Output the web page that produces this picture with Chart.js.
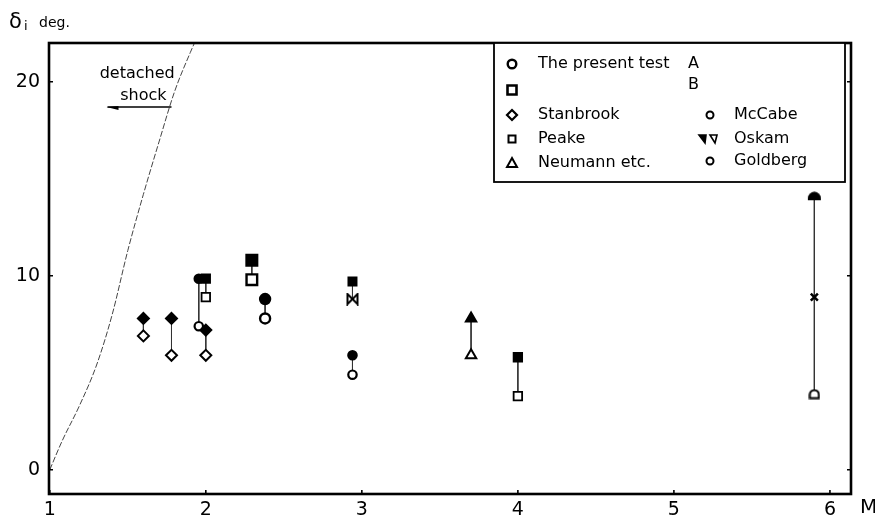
<!DOCTYPE html>
<html>
<head>
<meta charset="utf-8">
<script src="https://cdn.jsdelivr.net/npm/chart.js@4/dist/chart.umd.min.js"></script>
<style>
  html, body { margin: 0; padding: 0; background: #fff; }
  #c { display: block; }
</style>
</head>
<body>
<canvas id="c" width="875" height="525"></canvas>
<script>
// ---------------- data ----------------
const xTicks = [1, 2, 3, 4, 5, 6];
const yTicks = [0, 10, 20];

// detached-shock limit curve
const shockM     = [1.0, 1.08, 1.19, 1.30, 1.40, 1.50, 1.60, 1.70, 1.80, 1.90, 1.95];
const shockDelta = [0, 1.5, 3.3, 5.4, 8.0, 11.3, 14.2, 16.9, 19.5, 21.5, 22.4];

// The present test A (circles)
const presentAM    = [2.38];
const presentAHigh = [8.8];
const presentALow  = [7.8];
// The present test B (squares)
const presentBM    = [2.295];
const presentBHigh = [10.8];
const presentBLow  = [9.8];
// Stanbrook (diamonds)
const stanbrookM    = [1.6, 1.78, 2.0];
const stanbrookHigh = [7.8, 7.8, 7.2];
const stanbrookLow  = [6.9, 5.9, 5.9];
// Peake (small squares)
const peakeM    = [2.0, 4.0];
const peakeHigh = [9.85, 5.8];
const peakeLow  = [8.9, 3.8];
// Neumann etc. (triangles)
const neumannM    = [3.7];
const neumannHigh = [7.8];
const neumannLow  = [5.9];
// McCabe (small circles)
const mccabeM    = [1.955];
const mccabeHigh = [9.85];
const mccabeLow  = [7.4];
// Oskam
const oskamM    = [2.94];
const oskamHigh = [9.7];
const oskamLow  = [8.8];
const oskamCrossM     = [5.9];
const oskamCrossDelta = [8.9];
// Goldberg (small circles)
const goldbergM    = [2.94, 5.9];
const goldbergHigh = [5.9, 14.1];
const goldbergLow  = [4.9, 3.9];

// ---------------- custom point images ----------------
function mk(w, h, draw) {
  const c = document.createElement('canvas');
  c.width = w; c.height = h;
  const g = c.getContext('2d');
  draw(g);
  return c;
}
const bowtie = mk(13, 13, g => {
  g.strokeStyle = '#000'; g.lineWidth = 2; g.fillStyle = '#fff';
  g.beginPath();
  g.moveTo(1.5, 1.5); g.lineTo(11.5, 11.5); g.lineTo(11.5, 1.5); g.lineTo(1.5, 11.5); g.closePath();
  g.fill(); g.stroke();
});
const domeFilled = mk(15, 10, g => {
  g.fillStyle = '#000';
  g.beginPath();
  g.moveTo(1, 9); g.lineTo(1, 7); g.arc(7.5, 7, 6.5, Math.PI, 0); g.lineTo(14, 9); g.closePath();
  g.fill();
});
const domeOpen = mk(12, 11, g => {
  g.strokeStyle = '#000'; g.lineWidth = 2; g.fillStyle = '#fff';
  g.beginPath();
  g.moveTo(1.5, 9.5); g.lineTo(1.5, 6); g.arc(6, 6, 4.5, Math.PI, 0); g.lineTo(10.5, 9.5); g.closePath();
  g.fill(); g.stroke();
});

// ---------------- datasets ----------------
function markers(label, M, high, low, styleHigh, styleLow, radius, bw) {
  const data = [], bg = [], ps = [];
  M.forEach((m, i) => {
    if (high[i] != null) { data.push({x: m, y: high[i]}); bg.push('#000'); ps.push(Array.isArray(styleHigh) ? styleHigh[i] : styleHigh); }
    if (low[i] != null)  { data.push({x: m, y: low[i]});  bg.push('#fff'); ps.push(Array.isArray(styleLow) ? styleLow[i] : styleLow); }
  });
  return { label, data, showLine: false, order: 0,
    pointStyle: ps, pointRadius: radius, pointHoverRadius: radius,
    pointBorderWidth: bw, pointBackgroundColor: bg, pointBorderColor: '#000' };
}
function connectors(M, high, low) {
  return M.map((m, i) => ({
    label: 'link', data: [{x: m, y: high[i]}, {x: m, y: low[i]}],
    showLine: true, pointRadius: 0, borderColor: '#333', borderWidth: 1, order: 10
  }));
}

const datasets = [
  { label: 'detached shock', data: shockM.map((m, i) => ({x: m, y: shockDelta[i]})),
    showLine: true, pointRadius: 0, borderColor: '#444', borderWidth: 1, borderDash: [6, 2],
    tension: 0, cubicInterpolationMode: 'monotone', order: 20 },
  ...connectors(presentAM, presentAHigh, presentALow),
  ...connectors(presentBM, presentBHigh, presentBLow),
  ...connectors(stanbrookM, stanbrookHigh, stanbrookLow),
  ...connectors(peakeM, peakeHigh, peakeLow),
  ...connectors(neumannM, neumannHigh, neumannLow),
  ...connectors(mccabeM, mccabeHigh, mccabeLow),
  ...connectors(oskamM, oskamHigh, oskamLow),
  ...connectors(goldbergM, goldbergHigh, goldbergLow),
  markers('Stanbrook', stanbrookM, stanbrookHigh, stanbrookLow, 'rectRot', 'rectRot', 5.5, 2),
  markers('Peake', peakeM, peakeHigh, peakeLow, 'rect', 'rect', 6, 1.8),
  markers('Neumann etc.', neumannM, neumannHigh, neumannLow, 'triangle', 'triangle', 6, 2),
  markers('McCabe', mccabeM, mccabeHigh, mccabeLow, 'circle', 'circle', 4.2, 2.2),
  markers('Oskam', oskamM, oskamHigh, oskamLow, 'rect', bowtie, 6, 1.5),
  markers('Goldberg', goldbergM, goldbergHigh, goldbergLow, ['circle', domeFilled], ['circle', domeOpen], 4.2, 2.2),
  markers('The present test A', presentAM, presentAHigh, presentALow, 'circle', 'circle', 5, 2.4),
  markers('The present test B', presentBM, presentBHigh, presentBLow, 'rect', 'rect', 7.5, 2.4),
  { label: 'Oskam x', data: oskamCrossM.map((m, i) => ({x: m, y: oskamCrossDelta[i]})),
    showLine: false, pointStyle: 'crossRot', pointRadius: 5, pointBorderWidth: 2.5,
    pointBorderColor: '#000', order: 0 }
];

// ---------------- legend / frame / annotation plugin ----------------
const FONT = "'DejaVu Sans', sans-serif";
function sym(ctx, type, x, y) {
  ctx.save();
  ctx.strokeStyle = '#000'; ctx.fillStyle = '#fff';
  ctx.beginPath();
  if (type === 'circle') { ctx.lineWidth = 2.4; ctx.arc(x, y, 4.3, 0, Math.PI * 2); }
  else if (type === 'square') { ctx.lineWidth = 2.6; ctx.rect(x - 4.5, y - 4.5, 9, 9); }
  else if (type === 'diamond') { ctx.lineWidth = 2.2; ctx.moveTo(x, y - 5); ctx.lineTo(x + 5, y); ctx.lineTo(x, y + 5); ctx.lineTo(x - 5, y); ctx.closePath(); }
  else if (type === 'smallSquare') { ctx.lineWidth = 2; ctx.rect(x - 3.5, y - 3.5, 7, 7); }
  else if (type === 'triangle') { ctx.lineWidth = 2; ctx.moveTo(x, y - 5); ctx.lineTo(x + 5, y + 4); ctx.lineTo(x - 5, y + 4); ctx.closePath(); }
  else if (type === 'smallCircle') { ctx.lineWidth = 2; ctx.arc(x, y, 3.5, 0, Math.PI * 2); }
  ctx.fill(); ctx.stroke();
  if (type === 'oskam') {
    ctx.fillStyle = '#000'; ctx.lineWidth = 1.6;
    ctx.beginPath(); ctx.moveTo(x - 9, y - 4); ctx.lineTo(x - 2, y - 4); ctx.lineTo(x - 3, y + 4); ctx.closePath(); ctx.fill(); ctx.stroke();
    ctx.fillStyle = '#fff';
    ctx.beginPath(); ctx.moveTo(x + 2, y - 4); ctx.lineTo(x + 9, y - 4); ctx.lineTo(x + 7, y + 4); ctx.closePath(); ctx.fill(); ctx.stroke();
  }
  ctx.restore();
}

const decor = {
  id: 'decor',
  afterDraw(chart) {
    const { ctx, chartArea: a, scales: { x, y } } = chart;
    ctx.save();
    // frame
    ctx.strokeStyle = '#000'; ctx.lineWidth = 2.6;
    ctx.strokeRect(a.left, a.top, a.right - a.left, a.bottom - a.top);
    // inward ticks
    ctx.lineWidth = 1.6;
    ctx.beginPath();
    xTicks.forEach(v => { const px = x.getPixelForValue(v); ctx.moveTo(px, a.bottom); ctx.lineTo(px, a.bottom - 4); });
    yTicks.forEach(v => {
      const py = y.getPixelForValue(v);
      ctx.moveTo(a.left, py); ctx.lineTo(a.left + 4, py);
      ctx.moveTo(a.right, py); ctx.lineTo(a.right - 4, py);
    });
    ctx.stroke();

    // axis titles
    ctx.fillStyle = '#000';
    ctx.textBaseline = 'alphabetic'; ctx.textAlign = 'left';
    ctx.font = `21px ${FONT}`;
    ctx.fillText('δ', 9, 28);
    ctx.font = `13px ${FONT}`;
    ctx.fillText('i', 24, 30);
    ctx.font = `14px ${FONT}`;
    ctx.fillText('deg.', 39, 27);
    ctx.font = `20px ${FONT}`;
    ctx.fillText('M', 860, 513);

    // detached shock annotation
    ctx.font = `16px ${FONT}`;
    ctx.textAlign = 'center'; ctx.textBaseline = 'middle';
    ctx.fillText('detached', x.getPixelForValue(1.56), y.getPixelForValue(20.4));
    ctx.fillText('shock', x.getPixelForValue(1.60), y.getPixelForValue(19.3));
    const ay = y.getPixelForValue(18.7);
    const ax0 = x.getPixelForValue(1.37), ax1 = x.getPixelForValue(1.78);
    ctx.lineWidth = 1.5;
    ctx.beginPath(); ctx.moveTo(ax0, ay); ctx.lineTo(ax1, ay); ctx.stroke();
    ctx.beginPath(); ctx.moveTo(ax0 - 1, ay); ctx.lineTo(ax0 + 11, ay - 1); ctx.lineTo(ax0 + 11, ay + 3); ctx.closePath(); ctx.fill();

    // legend box
    const L = a.right - 357, T = a.top, R = a.right - 6, B = a.top + 139;
    ctx.fillStyle = '#fff';
    ctx.fillRect(L, T, R - L, B - T);
    ctx.strokeStyle = '#000'; ctx.lineWidth = 1.8;
    ctx.strokeRect(L, T, R - L, B - T);
    ctx.fillStyle = '#000';
    ctx.font = `16px ${FONT}`;
    ctx.textAlign = 'left'; ctx.textBaseline = 'middle';
    const c1s = L + 18, c1t = L + 44, c2s = L + 216, c2t = L + 240;
    const rows = [T + 21, T + 46, T + 72, T + 96, T + 120];
    sym(ctx, 'circle', c1s, rows[0]);      ctx.fillText('The present test', c1t, rows[0]);
    ctx.fillText('A', L + 194, rows[0]);
    sym(ctx, 'square', c1s, rows[1] + 1);
    ctx.fillText('B', L + 194, rows[1] - 4);
    sym(ctx, 'diamond', c1s, rows[2]);     ctx.fillText('Stanbrook', c1t, rows[2]);
    sym(ctx, 'smallSquare', c1s, rows[3]); ctx.fillText('Peake', c1t, rows[3]);
    sym(ctx, 'triangle', c1s, rows[4]);    ctx.fillText('Neumann etc.', c1t, rows[4]);
    sym(ctx, 'smallCircle', c2s, rows[2]); ctx.fillText('McCabe', c2t, rows[2]);
    sym(ctx, 'oskam', c2s - 2, rows[3]);   ctx.fillText('Oskam', c2t, rows[3]);
    sym(ctx, 'smallCircle', c2s, rows[4] - 2); ctx.fillText('Goldberg', c2t, rows[4] - 2);
    ctx.restore();
  }
};

const tickFont = { family: FONT, size: 19 };
new Chart(document.getElementById('c').getContext('2d'), {
  type: 'scatter',
  data: { datasets },
  options: {
    responsive: false,
    animation: false,
    events: [],
    layout: { padding: { left: 0, right: 24, top: 43, bottom: 0 } },
    plugins: { legend: { display: false }, tooltip: { enabled: false } },
    scales: {
      x: {
        type: 'linear', min: 0.995, max: 6.135,
        afterBuildTicks(s) { s.ticks = xTicks.map(v => ({ value: v })); },
        afterFit(s) { s.height = 31; },
        grid: { display: false, drawTicks: false },
        border: { display: false },
        ticks: { padding: 5, color: '#000', font: tickFont, maxRotation: 0, autoSkip: false,
                 callback: v => String(v) }
      },
      y: {
        type: 'linear', min: -1.25, max: 22,
        afterBuildTicks(s) { s.ticks = yTicks.map(v => ({ value: v })); },
        afterFit(s) { s.width = 49; },
        grid: { display: false, drawTicks: false },
        border: { display: false },
        ticks: { padding: 9, color: '#000', font: tickFont, autoSkip: false,
                 callback: v => String(v) }
      }
    }
  },
  plugins: [decor]
});
</script>
</body>
</html>
